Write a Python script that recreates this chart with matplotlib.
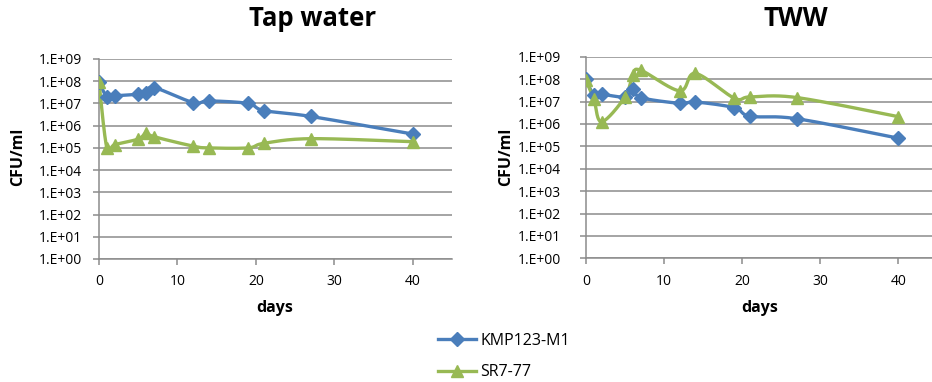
import numpy as np
import matplotlib
matplotlib.use('Agg')
import matplotlib.pyplot as plt
from matplotlib.lines import Line2D

plt.rcParams['font.family'] = ['Open Sans', 'DejaVu Sans']

# ---------------------------------------------------------------------
# data (CFU/ml vs days)

days = [0, 1, 2, 5, 6, 7, 12, 14, 19, 21, 27, 40]

tap_kmp = [9.5e7, 2.0e7, 2.2e7, 2.6e7, 3.0e7, 5.2e7, 1.1e7, 1.3e7, 1.0e7, 4.8e6, 2.6e6, 4.2e5]
tap_sr  = [9.0e7, 1.0e5, 1.4e5, 2.5e5, 4.6e5, 3.2e5, 1.2e5, 1.0e5, 1.0e5, 1.6e5, 2.6e5, 1.9e5]

tww_kmp = [1.0e8, 1.9e7, 2.1e7, 1.6e7, 3.6e7, 1.5e7, 8.3e6, 9.5e6, 5.3e6, 2.2e6, 1.7e6, 2.3e5]
tww_sr  = [9.0e7, 1.3e7, 1.25e6, 1.6e7, 1.5e8, 2.5e8, 3.0e7, 1.8e8, 1.4e7, 1.6e7, 1.5e7, 2.1e6]

series_names = ['KMP123-M1', 'SR7-77']
titles = ['Tap water', 'TWW']
yticks = [10.0 ** k for k in range(10)]
ytick_labels = ['1.E+%02d' % k for k in range(10)]
xticks = [0, 10, 20, 30, 40]

blue  = '#4A7EBB'
green = '#98B954'
grid  = '#8C8C8C'


def smooth(x, y, n=30):
    # excel-like smoothed line: catmull-rom bezier in (x, log y)
    x = np.asarray(x, float)
    ly = np.log10(np.asarray(y, float))
    px = np.concatenate(([x[0]], x, [x[-1]]))
    py = np.concatenate(([ly[0]], ly, [ly[-1]]))
    xs, ys = [], []
    t = np.linspace(0, 1, n)
    for i in range(1, len(px) - 2):
        p0 = np.array([px[i], py[i]])
        p3 = np.array([px[i + 1], py[i + 1]])
        c1 = p0 + (p3 - np.array([px[i - 1], py[i - 1]])) / 6.0
        c2 = p3 - (np.array([px[i + 2], py[i + 2]]) - p0) / 6.0
        b = ((1 - t) ** 3)[:, None] * p0 + (3 * (1 - t) ** 2 * t)[:, None] * c1 \
            + (3 * (1 - t) * t ** 2)[:, None] * c2 + (t ** 3)[:, None] * p3
        xs.extend(b[:, 0])
        ys.extend(b[:, 1])
    return np.array(xs), 10 ** np.array(ys)


fig = plt.figure(figsize=(9.32, 3.82), dpi=100)

axes_pos = [[99 / 932, 1 - 259 / 382, 353 / 932, 200 / 382],
            [586 / 932, 1 - 258.3 / 382, 351.5 / 932, 201.6 / 382]]
data = [(tap_kmp, tap_sr), (tww_kmp, tww_sr)]
title_x = [313, 796]
ylab_x = [18, 506]
xlab_x = [275, 760]

for k in range(2):
    ax = fig.add_axes(axes_pos[k])
    kmp, sr = data[k]

    sx, sy = smooth(days, kmp)
    ax.plot(sx, sy, color=blue, lw=2.4, solid_capstyle='round', zorder=3)
    ax.plot(days, kmp, 'D', color=blue, ms=7, zorder=4)
    sx, sy = smooth(days, sr)
    ax.plot(sx, sy, color=green, lw=2.4, solid_capstyle='round', zorder=3)
    ax.plot(days, sr, '^', color=green, ms=9, zorder=4)

    ax.set_yscale('log')
    ax.set_ylim(1, 1e9)
    ax.set_xlim(0, 45)
    ax.set_yticks(yticks)
    ax.set_yticklabels(ytick_labels)
    ax.yaxis.set_minor_locator(matplotlib.ticker.NullLocator())
    ax.set_xticks(xticks)
    ax.grid(axis='y', color=grid, lw=1.1)
    ax.set_axisbelow(True)
    for s in ['top', 'right']:
        ax.spines[s].set_visible(False)
    for s in ['left', 'bottom']:
        ax.spines[s].set_color(grid)
        ax.spines[s].set_linewidth(1.1)
    ax.tick_params(colors=grid, length=4, width=1.1, labelsize=10, labelcolor='black')
    ax.tick_params(axis='y', pad=8 if k == 0 else 14)
    ax.tick_params(axis='x', pad=7)

    fig.text(title_x[k] / 932, 1 - 18 / 382, titles[k], fontsize=18.5, fontweight='bold',
             ha='center', va='center')
    fig.text(ylab_x[k] / 932, 1 - 157 / 382, 'CFU/ml', fontsize=11.5, fontweight='bold',
             rotation=90, ha='center', va='center')
    fig.text(xlab_x[k] / 932, 1 - 308 / 382, 'days', fontsize=11.5, fontweight='bold',
             ha='center', va='center')

handles = [Line2D([], [], color=blue, lw=2.4, marker='D', ms=7),
           Line2D([], [], color=green, lw=2.4, marker='^', ms=9)]
fig.legend(handles, series_names, loc='upper left', bbox_to_anchor=(438 / 932, 1 - 333 / 382),
           frameon=False, fontsize=11.5, handlelength=2.4, labelspacing=0.95,
           handletextpad=0.25, borderaxespad=0, borderpad=0)

plt.savefig('out.png', dpi=100)
